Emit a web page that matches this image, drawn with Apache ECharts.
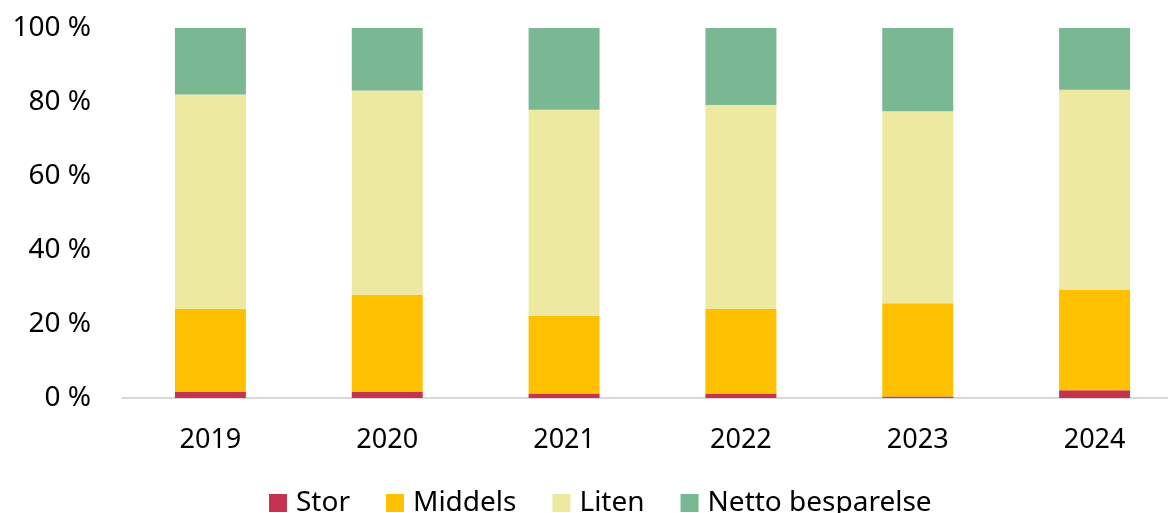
<!DOCTYPE html>
<html>
<head>
<meta charset="utf-8">
<script src="https://cdn.jsdelivr.net/npm/echarts@6/dist/echarts.min.js"></script>
<style>
  html, body { margin: 0; padding: 0; background: #fff; }
  #chart { width: 1168px; height: 513px; }
</style>
</head>
<body>
<div id="chart"></div>
<script>
// shares in percent
const years = ["2019", "2020", "2021", "2022", "2023", "2024"];
const stor = [1.6, 1.6, 1.2, 1.2, 0.4, 2.1];
const middels = [22.5, 26.3, 21.0, 22.9, 25.2, 27.1];
const liten = [57.9, 55.2, 55.7, 55.1, 51.9, 54.1];
const netto = [18.0, 16.9, 22.1, 20.8, 22.5, 16.7];
const yTicks = [0, 20, 40, 60, 80, 100];

const font = "Noto Sans";

function bar(name, data, color) {
  return {
    name: name,
    type: "bar",
    stack: "total",
    barWidth: 71,
    data: data,
    itemStyle: { color: color }
  };
}

const chart = echarts.init(document.getElementById("chart"));
chart.setOption({
  animation: false,
  textStyle: { fontFamily: font },
  // plot runs a little past the right edge, as in the original crop
  grid: { left: 122, top: 28, width: 1061, height: 370, outerBoundsMode: "none" },
  legend: {
    left: 269,
    top: 489,
    padding: 0,
    itemWidth: 18,
    itemHeight: 18,
    itemGap: 36,
    icon: "rect",
    textStyle: { fontFamily: font, fontSize: 28, color: "#000", padding: [0, 0, 0, 4] },
    data: ["Stor", "Middels", "Liten", "Netto besparelse"]
  },
  xAxis: {
    type: "category",
    data: years,
    axisLine: { lineStyle: { color: "#d9d9d9", width: 2 } },
    axisTick: { show: false },
    axisLabel: { fontSize: 27, color: "#000", margin: 29, fontFamily: font }
  },
  yAxis: {
    type: "value",
    min: yTicks[0],
    max: yTicks[yTicks.length - 1],
    interval: 20,
    splitLine: { show: false },
    axisLine: { show: false },
    axisTick: { show: false },
    axisLabel: { fontSize: 28, color: "#000", margin: 31, fontFamily: font, formatter: "{value} %" }
  },
  series: [
    bar("Stor", stor, "#c5334f"),
    bar("Middels", middels, "#ffc000"),
    bar("Liten", liten, "#ede9a1"),
    bar("Netto besparelse", netto, "#7ab793")
  ]
});
</script>
</body>
</html>
